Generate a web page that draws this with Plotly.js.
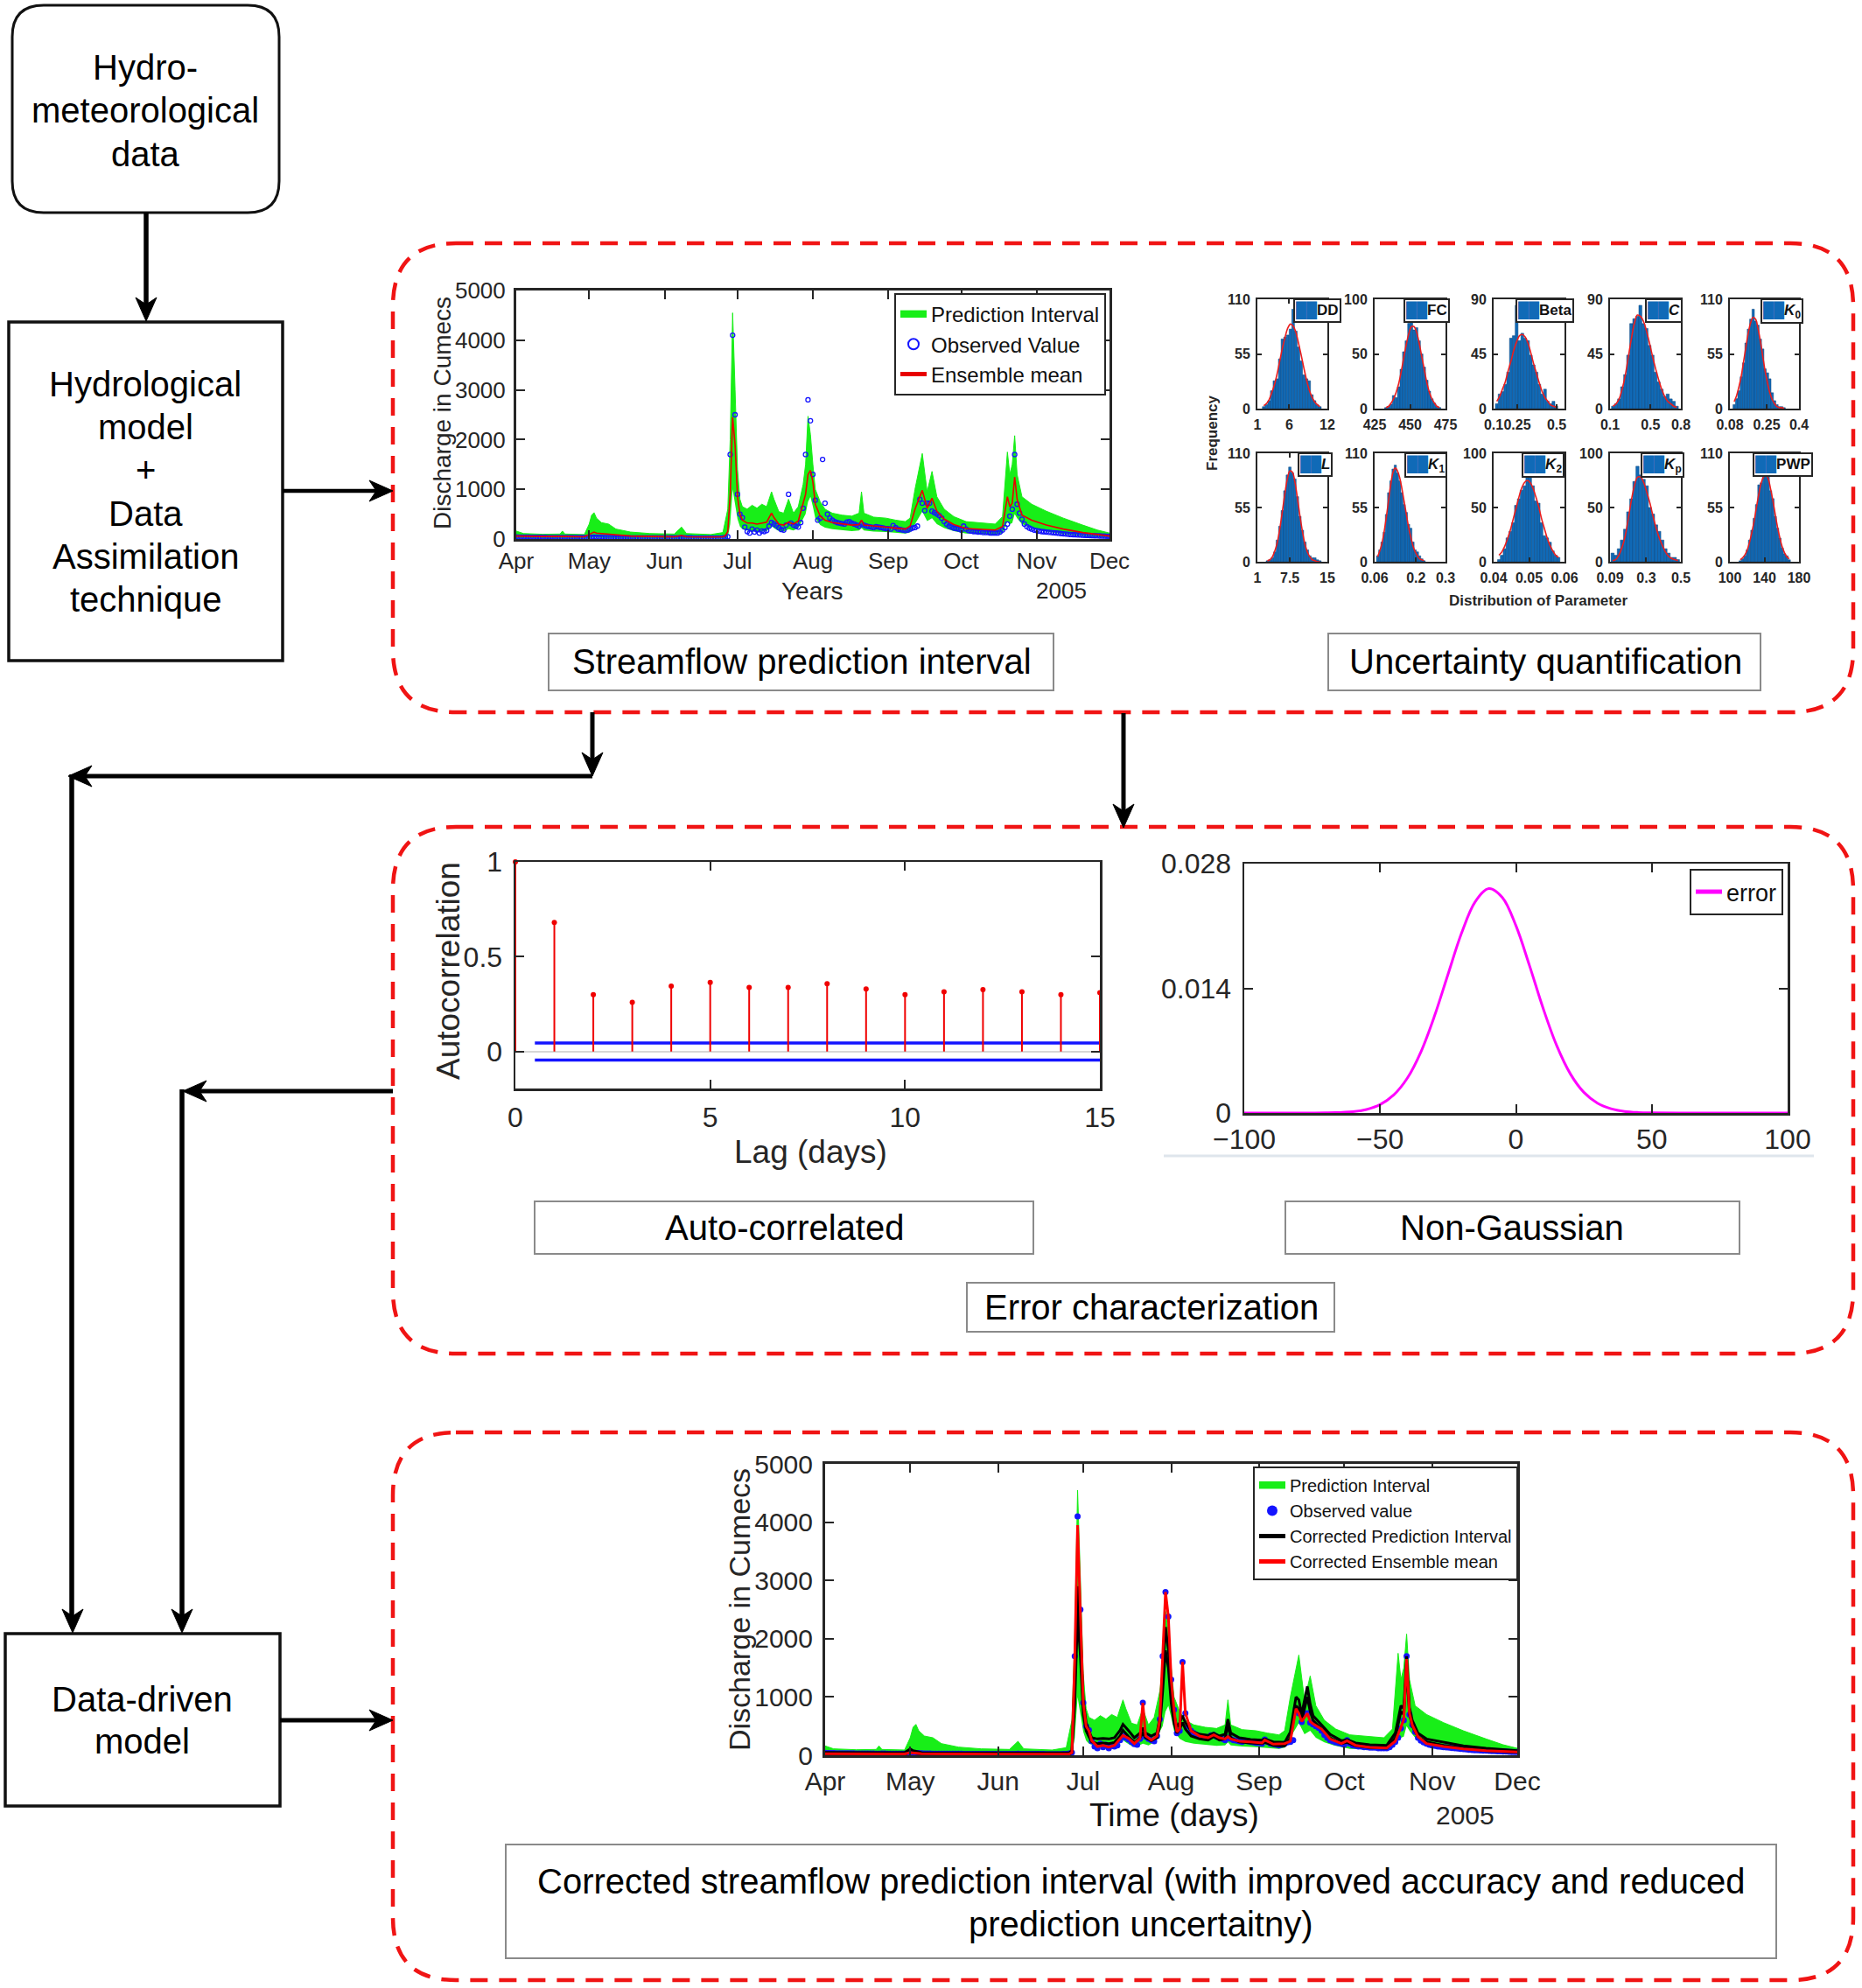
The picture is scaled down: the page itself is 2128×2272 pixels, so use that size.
<!DOCTYPE html>
<html>
<head>
<meta charset="utf-8">
<script src="https://cdn.plot.ly/plotly-3.0.1.min.js"></script>
<style>
  html, body { margin: 0; padding: 0; background: #fff; }
  #chart { width: 2128px; height: 2272px; }
</style>
</head>
<body>
<div id="chart"></div>
<script>
// ---------- streamflow (2005, discharge in cumecs) ----------
const monthTicks = ['2005-04-01','2005-05-01','2005-06-01','2005-07-01','2005-08-01','2005-09-01','2005-10-01','2005-11-01','2005-12-01'];
const monthLabels = ['Apr','May','Jun','Jul','Aug','Sep','Oct','Nov','Dec'];
const flowTicks = [0, 1000, 2000, 3000, 4000, 5000];

// observed discharge, one value per day from 1 Apr
const obsApr = [40,38,37,36,35,35,34,33,33,32,32,31,31,30,30,30,29,29,28,28,30,29,28,28,27,27,27,26,26,26];
const obsMay = [28,32,38,36,33,31,30,29,28,28,27,27,26,26,26,25,25,25,25,24,24,24,24,24,23,23,23,23,23,23,22];
const obsJun = [22,22,22,22,22,24,24,26,24,23,22,22,21,21,21,21,21,20,20,20,20,20,20,21,24,30,45,1700,4100,2500];
const obsJul = [900,500,430,240,150,120,200,140,180,120,160,150,170,260,330,300,270,230,190,180,280,900,320,280,260,240,330,620,1700,2800,2380];
const obsAug = [1300,780,380,420,1600,720,500,420,380,350,330,320,310,300,340,350,320,300,280,260,300,280,260,250,240,230,250,240,230,220,210];
const obsSep = [210,200,270,230,200,190,180,170,180,200,220,230,260,800,720,570,720,720,560,530,500,470,420,350,300,260,240,220,210,200];
const obsOct = [180,260,200,170,160,150,150,140,140,130,130,130,120,120,120,120,140,180,230,300,460,600,1700,700,520,400,300,250,220,200,180];
const obsNov = [170,160,150,145,140,135,130,125,120,115,110,105,100,95,90,88,85,82,80,77,75,72,70,68,66,64,62,60,58,56];
const obsDec = [55];

// ensemble prediction interval and mean
const bandDates = [
  '2005-04-01','2005-04-04','2005-04-12','2005-04-19','2005-04-20','2005-04-21','2005-04-29',
  '2005-05-01','2005-05-02','2005-05-03','2005-05-04','2005-05-06','2005-05-09','2005-05-12','2005-05-18','2005-05-26',
  '2005-06-05','2005-06-08','2005-06-10','2005-06-20','2005-06-25','2005-06-26','2005-06-27','2005-06-28','2005-06-29','2005-06-30',
  '2005-07-01','2005-07-02','2005-07-03','2005-07-05','2005-07-07','2005-07-09','2005-07-11','2005-07-13','2005-07-15','2005-07-16',
  '2005-07-18','2005-07-20','2005-07-22','2005-07-24','2005-07-26','2005-07-28','2005-07-29','2005-07-30','2005-07-31',
  '2005-08-01','2005-08-02','2005-08-04','2005-08-06','2005-08-09','2005-08-13','2005-08-17','2005-08-20','2005-08-21','2005-08-22','2005-08-26','2005-08-31',
  '2005-09-04','2005-09-08','2005-09-10','2005-09-12','2005-09-15','2005-09-17','2005-09-19','2005-09-21','2005-09-24','2005-09-28',
  '2005-10-03','2005-10-09','2005-10-15','2005-10-18','2005-10-20','2005-10-21','2005-10-22','2005-10-23','2005-10-24','2005-10-26','2005-10-30',
  '2005-11-05','2005-11-12','2005-11-20','2005-11-26','2005-12-01'];
const bandUpper = [
  160,110,95,100,160,100,90,
  300,480,530,420,330,300,200,140,110,
  100,240,110,90,130,380,600,2000,4550,3000,
  1400,800,650,600,680,620,700,650,950,800,550,520,800,520,650,1100,1500,2470,2100,
  1500,1000,750,600,520,480,460,520,950,520,440,420,
  380,350,420,1000,1720,950,1360,850,600,450,
  350,320,300,450,1750,1300,1500,2080,1300,850,700,
  560,420,280,180,120];
const bandLower = [
  10,8,5,5,5,5,5,
  10,20,30,25,20,15,10,5,5,
  5,5,5,5,5,10,30,300,1000,700,
  400,250,200,170,150,140,150,160,260,220,160,150,200,170,220,400,500,750,850,
  650,420,280,230,200,180,160,170,220,170,150,140,
  120,110,130,300,550,360,420,300,220,160,
  110,100,90,120,350,300,320,500,420,300,220,
  150,100,60,40,20];
const ensMean = [
  60,55,50,50,55,50,45,
  90,120,140,120,110,100,80,60,50,
  45,70,45,40,45,70,150,900,2450,1900,
  850,500,380,320,320,300,320,340,520,430,300,280,340,300,360,700,900,1300,1380,
  1150,700,460,380,330,300,280,290,380,280,260,240,
  220,200,260,600,980,620,820,560,400,290,
  210,190,180,250,850,650,720,1250,800,480,380,
  280,200,130,90,60];

// corrected (data-driven) interval and mean
const corrDates = [
  '2005-04-01','2005-04-20','2005-04-29','2005-05-01','2005-05-02','2005-05-05','2005-05-31','2005-06-26','2005-06-27','2005-06-28','2005-06-29','2005-06-30',
  '2005-07-01','2005-07-02','2005-07-03','2005-07-04','2005-07-06','2005-07-08','2005-07-10','2005-07-12','2005-07-14','2005-07-15','2005-07-17',
  '2005-07-19','2005-07-21','2005-07-22','2005-07-23','2005-07-25','2005-07-27','2005-07-28','2005-07-29','2005-07-30','2005-07-31',
  '2005-08-01','2005-08-02','2005-08-03','2005-08-04','2005-08-05','2005-08-06','2005-08-08','2005-08-11','2005-08-14','2005-08-16','2005-08-18',
  '2005-08-20','2005-08-21','2005-08-22','2005-08-25','2005-08-29',
  '2005-09-02','2005-09-03','2005-09-06','2005-09-10','2005-09-12','2005-09-14','2005-09-15','2005-09-16','2005-09-18','2005-09-19','2005-09-20',
  '2005-09-23','2005-09-26','2005-09-30',
  '2005-10-02','2005-10-05','2005-10-10','2005-10-16','2005-10-19','2005-10-21','2005-10-22','2005-10-23','2005-10-24','2005-10-25','2005-10-27','2005-10-30',
  '2005-11-05','2005-11-12','2005-11-20','2005-12-01'];
const corrLower = [
  20,20,20,50,40,20,15,15,40,900,2400,1700,
  700,420,320,230,200,210,200,220,330,430,320,220,300,380,300,250,300,500,1100,1800,1500,
  900,550,380,450,560,450,330,280,260,320,260,280,520,300,230,210,
  200,220,170,160,300,850,800,600,1000,750,600,450,300,200,
  220,160,130,120,300,750,700,1500,700,500,320,230,
  170,120,80,50];
const corrUpper = [
  50,45,45,110,80,45,40,40,80,1300,2900,2100,
  950,560,420,300,280,290,280,300,430,530,420,300,380,470,380,330,380,650,1400,2200,1800,
  1150,700,480,560,680,560,420,360,340,380,330,360,620,380,300,270,
  260,280,230,220,400,1000,950,700,1180,880,680,520,360,250,
  270,210,180,170,380,850,800,1700,820,600,380,280,
  220,160,120,80];
const corrMean = [
  25,22,22,45,40,25,20,20,45,1650,3950,2450,
  900,500,420,250,150,170,140,170,280,340,290,200,290,900,330,260,330,620,1700,2800,2380,
  1300,780,400,450,1600,720,420,330,300,350,300,280,320,280,240,230,
  210,260,190,200,240,800,720,580,720,580,540,450,280,200,
  250,170,135,125,240,480,620,1650,720,520,320,200,
  150,110,80,55];

// ---------- parameter distributions ----------
const paramNames = ['DD','FC','Beta','<i>C</i>','<i>K</i><sub>0</sub>','<i>L</i>','<i>K</i><sub>1</sub>','<i>K</i><sub>2</sub>','<i>K</i><sub>p</sub>','PWP'];
const paramRange = [[1,12],[425,475],[0.1,0.55],[0.1,0.8],[0.08,0.4],[1,15],[0.06,0.3],[0.04,0.06],[0.09,0.5],[100,180]];
const paramTicks = [[1,6,12],[425,450,475],[0.1,0.25,0.5],[0.1,0.5,0.8],[0.08,0.25,0.4],[1,7.5,15],[0.06,0.2,0.3],[0.04,0.05,0.06],[0.09,0.3,0.5],[100,140,180]];
const freqMax = [110,100,90,90,110,110,110,100,100,110];
const binFirst = [2.0, 433, 0.12, 0.13, 0.10, 3.0, 0.07, 0.0415, 0.105, 112];
const binWidth = [0.42, 1.8, 0.018, 0.03, 0.011, 0.5, 0.0075, 0.0008, 0.018, 2.7];

const countsDD  = [2,4,8,18,28,30,50,70,72,74,80,100,78,62,48,34,30,28,14,8,4,2];
const fitDD     = [3,5,9,16,24,35,48,61,72,81,85,83,77,66,54,41,29,19,12,7,4,2];
const countsFC  = [1,2,4,12,10,20,36,52,62,78,80,72,74,62,50,38,26,16,9,5,2,1];
const fitFC     = [1,2,5,9,15,23,34,47,59,69,75,75,70,60,48,36,24,15,9,5,2,1];
const countsBeta = [4,12,14,20,30,58,60,85,56,62,58,56,44,36,30,20,12,16,6,4,6,2];
const fitBeta    = [6,10,16,22,31,39,48,55,60,61,59,54,46,37,29,21,14,9,6,3,2,1];
const countsC   = [2,4,8,18,28,44,70,74,76,85,70,66,52,44,30,22,16,10,12,8,6,2];
const fitC      = [2,4,8,16,27,42,57,70,77,76,72,64,54,43,33,24,16,10,6,4,2,1];
const countsK0  = [4,10,18,32,46,66,80,90,100,88,84,70,60,40,36,30,16,8,4,2,2,1];
const fitK0     = [7,13,22,33,48,63,77,87,92,90,81,68,53,38,26,16,9,5,2,1,1,0];
const countsL   = [1,2,4,10,22,36,52,72,88,96,90,84,66,46,32,20,12,6,4,4,2,1];
const fitL      = [1,2,5,11,20,34,51,69,84,92,91,81,65,47,31,18,10,5,2,1,0,0];
const countsK1  = [6,12,20,30,48,70,82,94,98,90,82,70,58,50,38,34,20,12,10,6,3,1];
const fitK1     = [5,11,19,31,46,63,79,91,95,92,85,74,61,48,35,25,16,10,6,3,2,1];
const countsK2  = [2,6,12,22,28,36,52,58,66,70,85,78,70,56,54,36,24,22,18,10,6,4];
const fitK2     = [6,9,14,21,29,39,49,59,68,73,75,73,68,60,51,40,31,22,15,10,6,4];
const countsKp  = [8,6,12,20,30,46,58,74,88,80,76,70,50,44,34,28,20,12,8,4,4,2];
const fitKp     = [1,2,6,13,23,39,56,70,78,78,73,64,54,42,31,22,15,9,5,3,2,1];
const countsPWP = [1,3,6,12,22,32,44,58,78,80,90,95,86,72,64,46,34,24,14,8,6,2];
const fitPWP    = [2,4,7,12,20,30,42,56,69,80,86,88,84,74,62,48,35,24,15,9,5,3];

const paramCounts = [countsDD, countsFC, countsBeta, countsC, countsK0, countsL, countsK1, countsK2, countsKp, countsPWP];
const paramFit = [fitDD, fitFC, fitBeta, fitC, fitK0, fitL, fitK1, fitK2, fitKp, fitPWP];

// ---------- error characterisation ----------
const acfLags = [0,1,2,3,4,5,6,7,8,9,10,11,12,13,14,15];
const acfValues = [1, 0.68, 0.30, 0.26, 0.345, 0.365, 0.338, 0.338, 0.358, 0.33, 0.30, 0.315, 0.326, 0.315, 0.30, 0.31];
const confBound = 0.045;

const errX = [-100,-80,-70,-60,-55,-50,-45,-40,-35,-30,-25,-20,-15,-10,-5,0,5,10,15,20,25,30,35,40,45,50,60,80,100];
const errDensity = [0,0.000001,0.000016,0.00015,0.0004,0.00094,0.00202,0.0039,0.00685,0.01087,0.01558,0.02021,0.02372,0.02519,
  0.0242,0.02103,0.01654,0.01176,0.00757,0.00441,0.00232,0.00111,0.00048,0.00018,0.00006,0.00002,0,0,0];

// ---------- page geometry ----------
const W = 2128, H = 2272;
const px = x => x / W;
const py = y => 1 - y / H;

const FONT = '"Liberation Sans", Arial, Helvetica, sans-serif';
const INK = '#262626';
const GREEN = 'rgb(24,238,24)';
const OBS_BLUE = 'rgb(20,20,255)';
const MEAN_RED = 'rgb(232,0,0)';
const HIST_BLUE = 'rgb(16,106,183)';
const DASH_RED = 'rgb(240,20,20)';

const observed = [].concat(obsApr, obsMay, obsJun, obsJul, obsAug, obsSep, obsOct, obsNov, obsDec);
const obsDates = observed.map((v, i) => new Date(Date.UTC(2005, 3, 1 + i)).toISOString().slice(0, 10));

const layout = {
    width: W, height: H,
    margin: { l: 0, r: 0, t: 0, b: 0 },
    paper_bgcolor: '#fff', plot_bgcolor: '#fff',
    font: { family: FONT, color: INK },
    showlegend: true,
    shapes: [],
    annotations: []
};

function axisBase() {
    return {
        showline: true, linecolor: INK, linewidth: 2.5, mirror: 'ticks',
        ticks: 'inside', ticklen: 10, tickwidth: 2, tickcolor: INK,
        showgrid: false, zeroline: false, fixedrange: true, tickangle: 0
    };
}

function place(id, xs, ys, xopts, yopts) {
    const n = id === 1 ? '' : id;
    layout['xaxis' + n] = Object.assign(axisBase(), { domain: [px(xs[0]), px(xs[1])], anchor: 'y' + n }, xopts);
    layout['yaxis' + n] = Object.assign(axisBase(), { domain: [py(ys[1]), py(ys[0])], anchor: 'x' + n }, yopts);
}

function legendBox(xr, yt, size) {
    return {
        x: px(xr), y: py(yt), xanchor: 'right', yanchor: 'top',
        bgcolor: '#fff', bordercolor: INK, borderwidth: 2,
        font: { size: size, color: '#111', family: FONT },
        itemwidth: 30, tracegroupgap: 0, itemsizing: 'constant', traceorder: 'normal'
    };
}

function label(text, x, y, size, extra) {
    layout.annotations.push(Object.assign({
        xref: 'paper', yref: 'paper', x: px(x), y: py(y),
        xanchor: 'center', yanchor: 'middle', text: text, showarrow: false,
        font: { size: size, color: '#111', family: FONT }
    }, extra || {}));
}

function rect(x0, y0, x1, y1, color, width) {
    layout.shapes.push({ type: 'rect', xref: 'paper', yref: 'paper',
        x0: px(x0), y0: py(y0), x1: px(x1), y1: py(y1),
        line: { color: color, width: width }, fillcolor: 'rgba(0,0,0,0)' });
}

function roundRect(x0, y0, x1, y1, r, line) {
    const P = (x, y) => px(x) + ',' + py(y);
    const path = 'M' + P(x0 + r, y0) + ' L' + P(x1 - r, y0) + ' Q' + P(x1, y0) + ' ' + P(x1, y0 + r) +
        ' L' + P(x1, y1 - r) + ' Q' + P(x1, y1) + ' ' + P(x1 - r, y1) +
        ' L' + P(x0 + r, y1) + ' Q' + P(x0, y1) + ' ' + P(x0, y1 - r) +
        ' L' + P(x0, y0 + r) + ' Q' + P(x0, y0) + ' ' + P(x0 + r, y0) + ' Z';
    layout.shapes.push({ type: 'path', xref: 'paper', yref: 'paper', path: path, line: line, fillcolor: 'rgba(0,0,0,0)' });
}

function seg(x0, y0, x1, y1, w) {
    layout.shapes.push({ type: 'line', xref: 'paper', yref: 'paper',
        x0: px(x0), y0: py(y0), x1: px(x1), y1: py(y1), line: { color: '#000', width: w } });
}

// filled arrow head, tip at (tx, ty)
function head(tx, ty, dir) {
    const L = 27, hw = 12, n = 8;
    let pts;
    if (dir === 'down') pts = [[tx, ty], [tx - hw, ty - L], [tx, ty - L + n], [tx + hw, ty - L]];
    if (dir === 'right') pts = [[tx, ty], [tx - L, ty - hw], [tx - L + n, ty], [tx - L, ty + hw]];
    if (dir === 'left') pts = [[tx, ty], [tx + L, ty - hw], [tx + L - n, ty], [tx + L, ty + hw]];
    const path = 'M' + pts.map(p => px(p[0]) + ',' + py(p[1])).join(' L') + ' Z';
    layout.shapes.push({ type: 'path', xref: 'paper', yref: 'paper', path: path,
        fillcolor: '#000', line: { color: '#000', width: 1 } });
}

const traces = [];

// ---------- top: streamflow prediction interval ----------
place(1, [590, 1268], [332, 616],
    { type: 'date', range: ['2005-04-01', '2005-12-01'], tickmode: 'array', tickvals: monthTicks, ticktext: monthLabels,
      tickfont: { size: 26, color: INK }, ticklabelstandoff: 0, linewidth: 3 },
    { range: [0, 5000], tickmode: 'array', tickvals: flowTicks, tickfont: { size: 26, color: INK }, ticklabelstandoff: 4, linewidth: 3 });

traces.push({ x: bandDates, y: bandLower, xaxis: 'x', yaxis: 'y', mode: 'lines', line: { width: 0, color: GREEN },
    showlegend: false, hoverinfo: 'skip' });
traces.push({ x: bandDates, y: bandUpper, xaxis: 'x', yaxis: 'y', mode: 'lines', fill: 'tonexty', fillcolor: GREEN,
    line: { width: 1, color: GREEN }, name: 'Prediction Interval', legend: 'legend' });
traces.push({ x: obsDates, y: observed, xaxis: 'x', yaxis: 'y', mode: 'markers', name: 'Observed Value', legend: 'legend',
    marker: { symbol: 'circle-open', size: 5, color: OBS_BLUE, line: { width: 1.3 } } });
traces.push({ x: bandDates, y: ensMean, xaxis: 'x', yaxis: 'y', mode: 'lines', name: 'Ensemble mean', legend: 'legend',
    line: { color: MEAN_RED, width: 1.6 } });
layout.legend = legendBox(1264, 335, 24);

label('Discharge in Cumecs', 505, 472, 28, { textangle: -90, font: { size: 28, color: INK, family: FONT } });
label('Years', 928, 675, 28, { font: { size: 28, color: INK, family: FONT } });
label('2005', 1213, 675, 26, { font: { size: 26, color: INK, family: FONT } });

// ---------- top right: parameter histograms ----------
const histCols = [[1437, 1517], [1571, 1652], [1707, 1788], [1840, 1921], [1977, 2056]];
const histRows = [[342, 467], [518, 642]];
const histLegendRight = [1533, 1657, 1799, 1923, 2061, 1523, 1654, 1788, 1925, 2072];

paramNames.forEach((name, i) => {
    const id = i + 2;
    const cols = histCols[i % 5];
    const rows = histRows[Math.floor(i / 5)];
    const fm = freqMax[i];
    const tf = { size: 16, color: INK, weight: 'bold' };
    place(id, cols, rows,
        { range: paramRange[i], tickmode: 'array', tickvals: paramTicks[i], tickfont: tf, ticklen: 5, linewidth: 2, ticklabelstandoff: 3 },
        { range: [0, fm], tickmode: 'array', tickvals: [0, fm / 2, fm], tickfont: tf, ticklen: 5, linewidth: 2, ticklabelstandoff: 3 });
    const centers = paramCounts[i].map((c, k) => binFirst[i] + k * binWidth[i]);
    traces.push({ type: 'bar', x: centers, y: paramCounts[i], width: binWidth[i], xaxis: 'x' + id, yaxis: 'y' + id,
        marker: { color: HIST_BLUE, line: { color: 'rgb(14,70,125)', width: 0.5 } }, showlegend: false, hoverinfo: 'skip' });
    traces.push({ x: centers, y: paramFit[i], xaxis: 'x' + id, yaxis: 'y' + id, mode: 'lines',
        line: { color: 'rgb(235,30,30)', width: 1.6, shape: 'spline' }, showlegend: false, hoverinfo: 'skip' });
    label('<span style="color:' + HIST_BLUE + '">██</span><b>' + name + '</b>',
        histLegendRight[i], rows[0] - 1, 17,
        { xanchor: 'right', yanchor: 'top', bgcolor: '#fff', bordercolor: INK, borderwidth: 2, borderpad: 1,
          font: { size: 17, color: '#111', family: FONT } });
});
label('<b>Frequency</b>', 1386, 495, 17, { textangle: -90, font: { size: 17, color: INK, family: FONT } });
label('<b>Distribution of Parameter</b>', 1758, 687, 17, { font: { size: 17, color: INK, family: FONT } });

// ---------- middle left: autocorrelation ----------
place(12, [589, 1257], [985, 1244],
    { range: [0, 15], tickmode: 'array', tickvals: [0, 5, 10, 15], tickfont: { size: 32, color: INK }, ticklabelstandoff: 3 },
    { range: [-0.195, 1], tickmode: 'array', tickvals: [0, 0.5, 1], tickfont: { size: 32, color: INK }, ticklabelstandoff: 6,
      zeroline: true, zerolinecolor: '#d6d6d6', zerolinewidth: 2 });
const stemX = [], stemY = [];
acfLags.forEach((lag, i) => { stemX.push(lag, lag, null); stemY.push(0, acfValues[i], null); });
traces.push({ x: [0.5, 15], y: [confBound, confBound], xaxis: 'x12', yaxis: 'y12', mode: 'lines',
    line: { color: 'rgb(20,20,255)', width: 3.5 }, showlegend: false, hoverinfo: 'skip' });
traces.push({ x: [0.5, 15], y: [-confBound, -confBound], xaxis: 'x12', yaxis: 'y12', mode: 'lines',
    line: { color: 'rgb(20,20,255)', width: 3.5 }, showlegend: false, hoverinfo: 'skip' });
traces.push({ x: stemX, y: stemY, xaxis: 'x12', yaxis: 'y12', mode: 'lines', connectgaps: false,
    line: { color: 'rgb(240,0,0)', width: 2 }, showlegend: false, hoverinfo: 'skip', cliponaxis: false });
traces.push({ x: acfLags, y: acfValues, xaxis: 'x12', yaxis: 'y12', mode: 'markers',
    marker: { color: 'rgb(240,0,0)', size: 6 }, showlegend: false, hoverinfo: 'skip', cliponaxis: false });
label('Autocorrelation', 512, 1110, 37, { textangle: -90, font: { size: 37, color: INK, family: FONT } });
label('Lag (days)', 926, 1316, 37, { font: { size: 37, color: INK, family: FONT } });

// ---------- middle right: error density ----------
place(13, [1422, 2043], [987, 1272],
    { range: [-100, 100], tickmode: 'array', tickvals: [-100, -50, 0, 50, 100], tickfont: { size: 32, color: INK }, ticklabelstandoff: 0 },
    { range: [0, 0.028], tickmode: 'array', tickvals: [0, 0.014, 0.028], tickfont: { size: 32, color: INK }, ticklabelstandoff: 6 });
traces.push({ x: errX, y: errDensity, xaxis: 'x13', yaxis: 'y13', mode: 'lines', name: 'error', legend: 'legend3',
    line: { color: 'rgb(255,0,255)', width: 3, shape: 'spline' } });
layout.legend3 = legendBox(2038, 993, 27);

// ---------- bottom: corrected streamflow ----------
place(14, [943, 1734], [1673, 2006],
    { type: 'date', range: ['2005-04-01', '2005-12-01'], tickmode: 'array', tickvals: monthTicks, ticktext: monthLabels,
      tickfont: { size: 30, color: INK }, ticklabelstandoff: 1, linewidth: 3 },
    { range: [0, 5000], tickmode: 'array', tickvals: flowTicks, tickfont: { size: 30, color: INK }, ticklabelstandoff: 5, linewidth: 3 });
traces.push({ x: bandDates, y: bandLower, xaxis: 'x14', yaxis: 'y14', mode: 'lines', line: { width: 0, color: GREEN },
    showlegend: false, hoverinfo: 'skip' });
traces.push({ x: bandDates, y: bandUpper, xaxis: 'x14', yaxis: 'y14', mode: 'lines', fill: 'tonexty', fillcolor: GREEN,
    line: { width: 1, color: GREEN }, name: 'Prediction Interval', legend: 'legend2' });
traces.push({ x: obsDates, y: observed, xaxis: 'x14', yaxis: 'y14', mode: 'markers', name: 'Observed value', legend: 'legend2',
    marker: { symbol: 'circle', size: 7, color: OBS_BLUE } });
traces.push({ x: corrDates, y: corrLower, xaxis: 'x14', yaxis: 'y14', mode: 'lines',
    line: { color: '#000', width: 3 }, showlegend: false, hoverinfo: 'skip' });
traces.push({ x: corrDates, y: corrUpper, xaxis: 'x14', yaxis: 'y14', mode: 'lines', name: 'Corrected Prediction Interval',
    legend: 'legend2', line: { color: '#000', width: 3 } });
traces.push({ x: corrDates, y: corrMean, xaxis: 'x14', yaxis: 'y14', mode: 'lines', name: 'Corrected Ensemble mean',
    legend: 'legend2', line: { color: 'rgb(255,0,0)', width: 3 } });
layout.legend2 = legendBox(1735, 1676, 20);

label('Discharge in Cumecs', 845, 1840, 34, { textangle: -90, font: { size: 34, color: INK, family: FONT } });
label('Time (days)', 1342, 2074, 37, { font: { size: 37, color: '#111', family: FONT } });
label('2005', 1674, 2074, 30, { font: { size: 30, color: INK, family: FONT } });

// ---------- flowchart ----------
roundRect(14, 6, 319, 243, 36, { color: '#111', width: 3 });
rect(10, 368, 323, 755, '#111', 3.5);
rect(6, 1867, 320, 2064, '#111', 3.5);

const dashLine = { color: DASH_RED, width: 4.5, dash: '20px,13px' };
roundRect(449, 278, 2118, 814, 72, dashLine);
roundRect(449, 945, 2118, 1547, 72, dashLine);
roundRect(449, 1637, 2118, 2263, 72, dashLine);

rect(627, 724, 1204, 789, '#8a8a8a', 2);
rect(1518, 724, 2012, 789, '#8a8a8a', 2);
rect(611, 1373, 1181, 1433, '#8a8a8a', 2);
rect(1469, 1373, 1988, 1433, '#8a8a8a', 2);
rect(1105, 1466, 1525, 1522, '#8a8a8a', 2);
rect(578, 2108, 2030, 2238, '#8a8a8a', 2);
layout.shapes.push({ type: 'line', xref: 'paper', yref: 'paper', x0: px(1330), y0: py(1321), x1: px(2073), y1: py(1321),
    line: { color: '#dfe5ec', width: 3 } });

// connectors
seg(167, 243, 167, 350, 5.5); head(167, 367, 'down');
seg(323, 561, 430, 561, 4.5); head(449, 561, 'right');
seg(677, 814, 677, 870, 5); head(677, 887, 'down');
seg(677, 887, 95, 887, 5); head(78, 887, 'left');
seg(82, 885, 82, 1848, 5.5); head(83, 1866, 'down');
seg(1284, 815, 1284, 928, 5); head(1284, 946, 'down');
seg(449, 1247, 226, 1247, 5); head(209, 1247, 'left');
seg(208, 1245, 208, 1848, 5.5); head(208, 1866, 'down');
seg(320, 1966, 430, 1966, 5); head(449, 1966, 'right');

// box texts
const boxFont = size => ({ size: size, color: '#000', family: FONT });
[['Hydro-', 77], ['meteorological', 126], ['data', 176]].forEach(t => label(t[0], 166, t[1], 40, { font: boxFont(40) }));
[['Hydrological', 439], ['model', 488], ['+', 537], ['Data', 587], ['Assimilation', 636], ['technique', 685]]
    .forEach(t => label(t[0], 166, t[1], 40, { font: boxFont(40) }));
[['Data-driven', 1942], ['model', 1990]].forEach(t => label(t[0], 162, t[1], 40, { font: boxFont(40) }));

label('Streamflow prediction interval', 916, 756, 40, { font: boxFont(40) });
label('Uncertainty quantification', 1766, 756, 40, { font: boxFont(40) });
label('Auto-correlated', 896, 1403, 40, { font: boxFont(40) });
label('Non-Gaussian', 1728, 1403, 40, { font: boxFont(40) });
label('Error characterization', 1316, 1494, 40, { font: boxFont(40) });
label('Corrected streamflow prediction interval (with improved accuracy and reduced', 1304, 2150, 40, { font: boxFont(40) });
label('prediction uncertaitny)', 1304, 2199, 40, { font: boxFont(40) });

Plotly.newPlot('chart', traces, layout, { displayModeBar: false, staticPlot: true });
</script>
</body>
</html>
